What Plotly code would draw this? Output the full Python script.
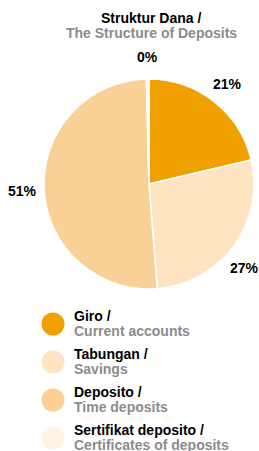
import math
import plotly.graph_objects as go

W, H = 259, 451

TITLE_ID = "Struktur Dana /"
TITLE_EN = "The Structure of Deposits"
LABELS_ID = ["Giro /", "Tabungan /", "Deposito /", "Sertifikat deposito /"]
LABELS_EN = ["Current accounts", "Savings", "Time deposits", "Certificates of deposits"]
VALUES = [21.3, 27.4, 50.8, 0.4]
COLORS = ["#F0A000", "#FFE4C2", "#F9D196", "#FFF3E4"]

GRAY = "#8C8C8C"
FONT = "Liberation Sans, Arial, sans-serif"

def px_x(x):
    return x / W

def px_y(y):
    return 1 - y / H

cx, cy, r = 149, 184, 105
label_r = 127
label_half_w = 14

fig = go.Figure(go.Pie(
    labels=LABELS_EN,
    values=VALUES,
    sort=False,
    direction="clockwise",
    rotation=0,
    marker=dict(colors=COLORS, line=dict(color="white", width=1.5)),
    textinfo="none",
    hoverinfo="label+percent",
    showlegend=False,
    domain=dict(x=[px_x(cx - r), px_x(cx + r)], y=[px_y(cy + r), px_y(cy - r)]),
    automargin=False,
))

annotations = [
    dict(x=px_x(151), y=px_y(18), text="<b>" + TITLE_ID + "</b>", showarrow=False,
         xref="paper", yref="paper", xanchor="center", yanchor="middle",
         font=dict(family=FONT, size=14, color="#000000")),
    dict(x=px_x(151), y=px_y(33), text="<b>" + TITLE_EN + "</b>", showarrow=False,
         xref="paper", yref="paper", xanchor="center", yanchor="middle",
         font=dict(family=FONT, size=14, color=GRAY)),
]

# percentage data labels placed outside each slice at its mid angle,
# slid along the label circle when they would leave the chart area
total = sum(VALUES)
cum = 0.0
for v in VALUES:
    mid = (cum + v / 2) / total * 2 * math.pi
    cum += v
    lx = cx + label_r * math.sin(mid)
    ly = cy - label_r * math.cos(mid)
    max_x = W - 1 - label_half_w
    min_x = 1 + label_half_w
    if lx > max_x or lx < min_x:
        lx = min(max(lx, min_x), max_x)
        dy = math.sqrt(max(label_r ** 2 - (lx - cx) ** 2, 0))
        ly = cy + (dy if ly >= cy else -dy)
    annotations.append(dict(x=px_x(lx), y=px_y(ly), text="<b>%d%%</b>" % round(v / total * 100),
                            showarrow=False, xref="paper", yref="paper",
                            xanchor="center", yanchor="middle",
                            font=dict(family=FONT, size=14, color="#000000")))

shapes = []
row0, step = 324, 38
for i, (lid, len_, col) in enumerate(zip(LABELS_ID, LABELS_EN, COLORS)):
    yc = row0 + i * step
    shapes.append(dict(type="circle", xref="paper", yref="paper",
                       x0=px_x(53 - 11.5), x1=px_x(53 + 11.5),
                       y0=px_y(yc + 11.5), y1=px_y(yc - 11.5),
                       fillcolor=col, line=dict(width=0)))
    annotations.append(dict(x=px_x(72), y=px_y(yc - 8), text="<b>" + lid + "</b>",
                            showarrow=False, xref="paper", yref="paper",
                            xanchor="left", yanchor="middle",
                            font=dict(family=FONT, size=14, color="#000000")))
    annotations.append(dict(x=px_x(72), y=px_y(yc + 6.5), text="<b>" + len_ + "</b>",
                            showarrow=False, xref="paper", yref="paper",
                            xanchor="left", yanchor="middle",
                            font=dict(family=FONT, size=14, color=GRAY)))

fig.update_layout(
    width=W, height=H,
    margin=dict(l=0, r=0, t=0, b=0),
    paper_bgcolor="white",
    plot_bgcolor="white",
    annotations=annotations,
    shapes=shapes,
)

fig.write_html(
    "out.html",
    config={"displayModeBar": False},
    post_script="document.body.style.margin='0';document.body.style.overflow='hidden';",
)
